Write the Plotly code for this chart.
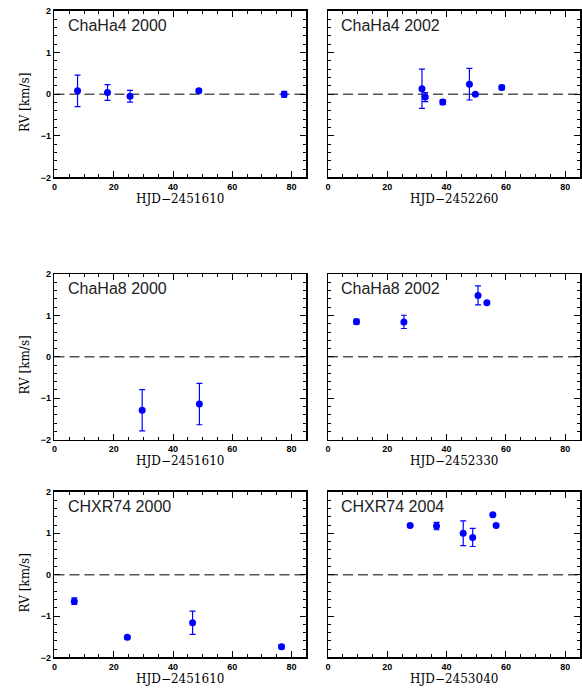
import plotly.graph_objects as go

W, H = 582, 694

# ---- data ----
titles = ["ChaHa4 2000", "ChaHa4 2002", "ChaHa8 2000", "ChaHa8 2002", "CHXR74 2000", "CHXR74 2004"]
xlabels = ["HJD\u22122451610", "HJD\u22122452260", "HJD\u22122451610", "HJD\u22122452330", "HJD\u22122451610", "HJD\u22122453040"]

chaha4_2000_t = [7.8, 17.9, 25.5, 48.7, 77.5]
chaha4_2000_rv = [0.08, 0.04, -0.05, 0.08, 0.0]
chaha4_2000_err = [0.38, 0.19, 0.14, 0.04, 0.07]

chaha4_2002_t = [31.7, 32.8, 38.7, 47.7, 49.7, 58.6]
chaha4_2002_rv = [0.13, -0.07, -0.19, 0.24, 0.0, 0.16]
chaha4_2002_err = [0.47, 0.11, 0.06, 0.38, 0.02, 0.05]

chaha8_2000_t = [29.6, 48.9]
chaha8_2000_rv = [-1.29, -1.14]
chaha8_2000_err = [0.50, 0.50]

chaha8_2002_t = [9.6, 25.6, 50.6, 53.6]
chaha8_2002_rv = [0.85, 0.845, 1.485, 1.31]
chaha8_2002_err = [0.06, 0.16, 0.23, 0.03]

chxr74_2000_t = [6.7, 24.6, 46.6, 76.6]
chxr74_2000_rv = [-0.64, -1.51, -1.16, -1.74]
chxr74_2000_err = [0.08, 0.04, 0.28, 0.05]

chxr74_2004_t = [27.7, 36.6, 45.6, 48.8, 55.6, 56.7]
chxr74_2004_rv = [1.19, 1.175, 1.0, 0.90, 1.45, 1.19]
chxr74_2004_err = [0.03, 0.09, 0.30, 0.22, 0.03, 0.03]

series = [
    (chaha4_2000_t, chaha4_2000_rv, chaha4_2000_err),
    (chaha4_2002_t, chaha4_2002_rv, chaha4_2002_err),
    (chaha8_2000_t, chaha8_2000_rv, chaha8_2000_err),
    (chaha8_2002_t, chaha8_2002_rv, chaha8_2002_err),
    (chxr74_2000_t, chxr74_2000_rv, chxr74_2000_err),
    (chxr74_2004_t, chxr74_2004_rv, chxr74_2004_err),
]

x_range = [0, 85]
y_range = [-2, 2]

# ---- layout geometry (pixels) ----
col_px = [(51.7, 305.0), (326.7, 580.0)]
row_px = [(6.0, 175.0), (273.0, 441.0), (494.0, 662.0)]

def xdom(c):
    a, b = col_px[c]
    return [a / W, b / W]

def ydom(r):
    t, b = row_px[r]
    return [1 - b / H, 1 - t / H]

fig = go.Figure()
layout = dict(
    width=W, height=H,
    margin=dict(l=0, r=0, t=0, b=0),
    paper_bgcolor="white", plot_bgcolor="white",
    showlegend=False,
    annotations=[], shapes=[],
)

tickfont = dict(family="Liberation Sans, Arial, sans-serif", size=9, color="black", weight="bold")
titlefont = dict(family="DejaVu Serif, serif", size=12, color="black")

for i, (t, rv, err) in enumerate(series):
    r, c = divmod(i, 2)
    n = i + 1
    xa = "x" if n == 1 else f"x{n}"
    ya = "y" if n == 1 else f"y{n}"
    xkey = "xaxis" if n == 1 else f"xaxis{n}"
    ykey = "yaxis" if n == 1 else f"yaxis{n}"

    fig.add_trace(go.Scatter(
        x=t, y=rv, mode="markers", xaxis=xa, yaxis=ya,
        marker=dict(color="#0000ff", size=7, line=dict(width=0)),
        error_y=dict(type="data", array=err, visible=True, color="#0000ff", thickness=1.2, width=3),
        hoverinfo="skip",
    ))

    common = dict(
        showgrid=False, zeroline=False, showline=True, linecolor="black", linewidth=1.5,
        mirror="allticks", ticks="inside", ticklen=6, tickwidth=1, tickcolor="black",
        tickfont=tickfont,
    )
    layout[xkey] = dict(
        common, domain=xdom(c), range=x_range, anchor=ya,
        tick0=0, dtick=20,
        minor=dict(dtick=5, ticks="inside", ticklen=3, tickcolor="black", tickwidth=1),
    )
    layout[ykey] = dict(
        common, domain=ydom(r), range=y_range, anchor=xa,
        tick0=0, dtick=1, showticklabels=(c == 0),
        minor=dict(dtick=0.2, ticks="inside", ticklen=3, tickcolor="black", tickwidth=1),
    )

    # zero reference line
    layout["shapes"].append(dict(
        type="line", xref=f"{xa} domain", yref=ya, x0=0, x1=1, y0=0, y1=0,
        line=dict(color="#555555", width=1.5, dash="10px,5px"), layer="below",
    ))

    # panel title
    layout["annotations"].append(dict(
        text=titles[i], xref=f"{xa} domain", yref=f"{ya} domain",
        x=0.045, y=0.975, xanchor="left", yanchor="top", showarrow=False,
        font=dict(family="Liberation Sans, Arial, sans-serif", size=16, color="#222222"),
    ))

    # x-axis title
    layout["annotations"].append(dict(
        text=xlabels[i], xref=f"{xa} domain", yref=f"{ya} domain",
        x=0.5, y=-22 / 169, xanchor="center", yanchor="middle", showarrow=False,
        font=titlefont,
    ))

    # y-axis title (left column only)
    if c == 0:
        layout["annotations"].append(dict(
            text="RV [km/s]", xref="paper", yref=f"{ya} domain",
            x=22 / W, y=0.5 - 8 / 169, xanchor="center", yanchor="middle",
            textangle=-90, showarrow=False, font=titlefont,
        ))

fig.update_layout(**layout)
fig.write_html(
    "out.html",
    config={"displayModeBar": False, "staticPlot": True},
    post_script="document.body.style.margin='0';document.body.style.padding='0';document.body.style.overflow='hidden';",
)
